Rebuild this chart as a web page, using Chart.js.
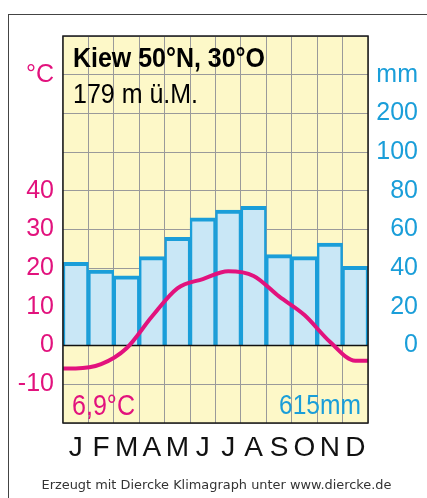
<!DOCTYPE html>
<html>
<head>
<meta charset="utf-8">
<script src="https://cdn.jsdelivr.net/npm/chart.js@4.4.1/dist/chart.umd.min.js"></script>
<style>
  html, body { margin: 0; padding: 0; background: #fff; }
  canvas { display: block; }
</style>
</head>
<body>
<canvas id="klima" width="427" height="498"></canvas>
<script>
// Kiew climate diagram (Diercke style)
const months = ['J', 'F', 'M', 'A', 'M', 'J', 'J', 'A', 'S', 'O', 'N', 'D'];
const temperature = [-5.9, -4.8, -0.7, 7.5, 14.8, 17.2, 19.2, 18.0, 12.7, 7.9, 1.0, -3.9];
const precipitation = [43, 39, 36, 46, 56, 66, 70, 72, 47, 46, 53, 41];
const tempTicks = [-10, 0, 10, 20, 30, 40];
const precTicks = [0, 20, 40, 60, 80, 100];
const stationName = 'Kiew 50°N, 30°O';
const stationHeight = '179 m ü.M.';
const meanTemp = '6,9°C';
const sumPrec = '615mm';
const footer = 'Erzeugt mit Diercke Klimagraph unter www.diercke.de';

const MAGENTA = '#e2127d';
const BLUE = '#1a9ed9';
const SANS = '"Liberation Sans", Arial, sans-serif';

// line runs flat from plot edge to the first / last month centre
const tempPoints = [{x: 0, y: temperature[0]}]
  .concat(temperature.map((t, i) => ({x: i + 0.5, y: t})))
  .concat([{x: 12, y: temperature[11]}]);

function fitText(ctx, text, x, y, width, font, color, align) {
  ctx.save();
  ctx.font = font;
  ctx.fillStyle = color;
  ctx.textBaseline = 'alphabetic';
  ctx.textAlign = 'left';
  const w = ctx.measureText(text).width;
  const sx = width / w;
  const left = align === 'right' ? x - width : x;
  ctx.translate(left, y);
  ctx.scale(sx, 1);
  ctx.fillText(text, 0, 0);
  ctx.restore();
}

const diagramPlugin = {
  id: 'diagram',
  beforeDraw(chart) {
    const {ctx, chartArea: a} = chart;
    ctx.save();
    ctx.fillStyle = '#fff';
    ctx.fillRect(0, 0, chart.width, chart.height);
    ctx.strokeStyle = '#444';
    ctx.lineWidth = 1;
    ctx.strokeRect(8.5, 14.5, 440, 500);
    ctx.fillStyle = '#fdf8c8';
    ctx.fillRect(a.left, a.top, a.right - a.left, a.bottom - a.top);
    ctx.restore();
  },
  afterDatasetDraw(chart, args) {
    if (args.index !== 0) return;
    const {ctx, chartArea: a} = chart;
    const y0 = chart.scales.y.getPixelForValue(0);
    ctx.save();
    ctx.strokeStyle = '#111';
    ctx.lineWidth = 1.5;
    ctx.beginPath();
    ctx.moveTo(a.left, y0);
    ctx.lineTo(a.right, y0);
    ctx.stroke();
    ctx.restore();
  },
  afterDraw(chart) {
    const {ctx, chartArea: a} = chart;
    ctx.save();
    ctx.strokeStyle = '#1a1a1a';
    ctx.lineWidth = 1.5;
    ctx.strokeRect(a.left, a.top, a.right - a.left, a.bottom - a.top);
    ctx.restore();
    fitText(ctx, stationName, 73, 67, 192, 'bold 28px ' + SANS, '#000');
    fitText(ctx, stationHeight, 73, 103, 125, '28px ' + SANS, '#000');
    fitText(ctx, meanTemp, 72, 415, 63, '30px ' + SANS, MAGENTA);
    fitText(ctx, sumPrec, 361, 414, 82, '28px ' + SANS, BLUE, 'right');
    fitText(ctx, footer, 41.5, 489, 350, '12.5px "DejaVu Sans", Verdana, sans-serif', '#333');
  }
};

new Chart(document.getElementById('klima'), {
  type: 'bar',
  data: {
    labels: months,
    datasets: [
      {
        type: 'bar',
        data: precipitation,
        yAxisID: 'y1',
        xAxisID: 'x',
        order: 2,
        grouped: false,
        backgroundColor: '#c9e7f6',
        borderColor: BLUE,
        borderWidth: {top: 4, left: 2.5, right: 2.5, bottom: 0},
        borderSkipped: false,
        barPercentage: 1,
        categoryPercentage: 1
      },
      {
        type: 'line',
        data: tempPoints,
        yAxisID: 'y',
        xAxisID: 'xl',
        order: 1,
        borderColor: MAGENTA,
        borderWidth: 4,
        pointRadius: 0,
        cubicInterpolationMode: 'monotone',
        fill: false
      }
    ]
  },
  options: {
    responsive: false,
    animation: false,
    events: [],
    layout: {padding: {top: 36, right: 9, left: 0, bottom: 0}},
    plugins: {legend: {display: false}, tooltip: {enabled: false}},
    scales: {
      x: {
        type: 'category',
        offset: true,
        border: {display: false},
        grid: {color: '#9a9a9a', lineWidth: 1, drawTicks: false, offset: true},
        ticks: {color: '#111', padding: 8, font: {family: SANS, size: 28}, maxRotation: 0, autoSkip: false},
        afterFit(s) { s.height = 75; }
      },
      xl: {
        type: 'linear',
        display: false,
        offset: false,
        min: 0,
        max: 12
      },
      y: {
        position: 'left',
        min: -20,
        max: 80,
        border: {display: false},
        grid: {color: '#9a9a9a', lineWidth: 1, drawTicks: false},
        ticks: {
          stepSize: 10,
          padding: 9,
          color: MAGENTA,
          font: {family: SANS, size: 25},
          callback: v => tempTicks.includes(v) ? String(v) : (v === 70 ? '°C' : '')
        },
        afterFit(s) { s.width = 63; }
      },
      y1: {
        position: 'right',
        min: -40,
        max: 160,
        border: {display: false},
        grid: {display: false, drawTicks: false},
        ticks: {
          stepSize: 20,
          padding: 0,
          crossAlign: 'far',
          color: BLUE,
          font: {family: SANS, size: 25},
          callback: v => precTicks.includes(v) ? String(v) : (v === 120 ? '200' : (v === 140 ? 'mm' : ''))
        },
        afterFit(s) { s.width = 50; }
      }
    }
  },
  plugins: [diagramPlugin]
});
</script>
</body>
</html>
